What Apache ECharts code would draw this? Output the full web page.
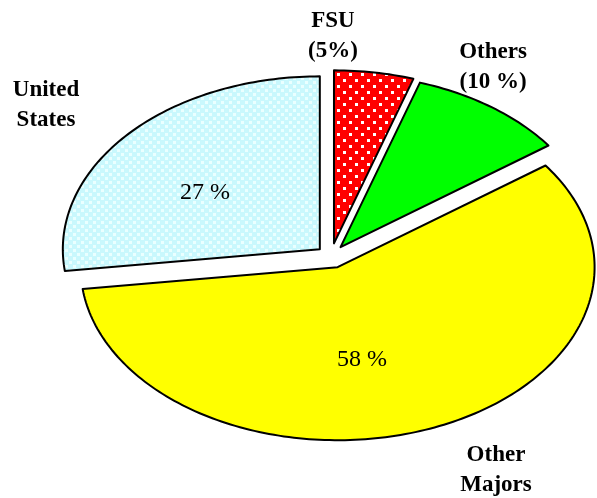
<!DOCTYPE html>
<html>
<head>
<meta charset="utf-8">
<script src="https://cdn.jsdelivr.net/npm/echarts@6/dist/echarts.min.js"></script>
<style>
  html, body { margin: 0; padding: 0; background: #fff; }
  #chart { width: 597px; height: 498px; }
</style>
</head>
<body>
<div id="chart"></div>
<script>
// slices go clockwise from 12 o'clock
const categories = ["FSU", "Others", "Other Majors", "United States"];
const shares = [5, 10, 58, 27];
const outerLabels = ["FSU\n(5%)", "Others\n(10 %)", "Other\nMajors", "United\nStates"];
const innerLabels = ["", "", "58 %", "27 %"];

// pie looks tilted, so it is drawn as an ellipse
const cx = 331, cy = 256, rx = 257, ry = 173, explode = 13;

function makePattern(bg, dot, tile, size, pts) {
  const c = document.createElement("canvas");
  c.width = tile;
  c.height = tile;
  const g = c.getContext("2d");
  g.fillStyle = bg;
  g.fillRect(0, 0, tile, tile);
  g.fillStyle = dot;
  pts.forEach(function (p) {
    g.fillRect(p[0], p[1], size, size);
  });
  return c;
}

const redDots = makePattern("#ff0000", "#ffffff", 12, 3, [[1, 1], [7, 7]]);
const cyanDots = makePattern("#c9f8fd", "#eaffff", 8, 3, [[1, 1], [5, 5]]);

const fills = [
  { image: redDots, repeat: "repeat" },
  "#00ff00",
  "#ffff00",
  { image: cyanDots, repeat: "repeat" },
];

const total = shares.reduce(function (a, b) { return a + b; }, 0);

function renderSlice(params, api) {
  const i = params.dataIndex;
  let before = 0;
  for (let k = 0; k < i; k++) before += shares[k];
  const a0 = (before / total) * Math.PI * 2;
  const a1 = ((before + shares[i]) / total) * Math.PI * 2;
  const mid = (a0 + a1) / 2;
  let dx = Math.sin(mid) * rx, dy = -Math.cos(mid) * ry;
  const len = Math.sqrt(dx * dx + dy * dy);
  const ox = cx + (dx / len) * explode;
  const oy = cy + (dy / len) * explode;
  const pts = [[ox, oy]];
  const steps = Math.max(4, Math.ceil((a1 - a0) / 0.02));
  for (let s = 0; s <= steps; s++) {
    const a = a0 + ((a1 - a0) * s) / steps;
    pts.push([ox + Math.sin(a) * rx, oy - Math.cos(a) * ry]);
  }
  return {
    type: "polygon",
    shape: { points: pts },
    style: { fill: fills[i], stroke: "#000", lineWidth: 2, lineJoin: "round" },
  };
}

const boldFont = 'bold 23px "Liberation Serif", "Times New Roman", serif';
const plainFont = '24px "Liberation Serif", "Times New Roman", serif';
const outerPos = [[333, 36], [493, 67], [496, 470], [46, 105]];
const innerPos = [[0, 0], [0, 0], [362, 360], [205, 193]];

const graphics = [];
categories.forEach(function (c, i) {
  graphics.push({
    type: "text",
    x: outerPos[i][0],
    y: outerPos[i][1],
    z: 10,
    style: {
      text: outerLabels[i],
      font: boldFont,
      fill: "#000",
      textAlign: "center",
      textVerticalAlign: "middle",
      lineHeight: 30,
    },
  });
  if (innerLabels[i]) {
    graphics.push({
      type: "text",
      x: innerPos[i][0],
      y: innerPos[i][1],
      z: 10,
      style: {
        text: innerLabels[i],
        font: plainFont,
        fill: "#000",
        textAlign: "center",
        textVerticalAlign: "middle",
      },
    });
  }
});

const chart = echarts.init(document.getElementById("chart"));
chart.setOption({
  backgroundColor: "#fff",
  animation: false,
  series: [
    {
      type: "custom",
      coordinateSystem: "none",
      renderItem: renderSlice,
      data: shares.map(function (v, i) { return { name: categories[i], value: v }; }),
    },
  ],
  graphic: graphics,
});
</script>
</body>
</html>
